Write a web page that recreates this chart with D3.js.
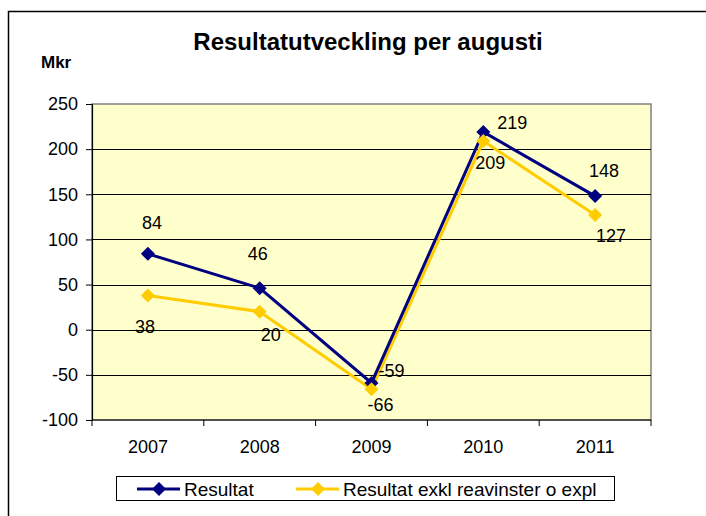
<!DOCTYPE html>
<html>
<head>
<meta charset="utf-8">
<script src="https://cdn.jsdelivr.net/npm/d3@7"></script>
<style>
  body { margin: 0; background: #fff; }
  svg { display: block; font-family: Arial, "Liberation Sans", sans-serif; }
</style>
</head>
<body>
<div id="chart"></div>
<script>
// chart data
var years = ["2007", "2008", "2009", "2010", "2011"];
var resultat = [84, 46, -59, 219, 148];
var resultatExkl = [38, 20, -66, 209, 127];
var yTicks = [-100, -50, 0, 50, 100, 150, 200, 250];
var seriesNames = ["Resultat", "Resultat exkl reavinster o expl"];

var W = 706, H = 516;
var plot = {left: 92, top: 104, right: 651, bottom: 420};

// where each data label sits relative to its marker (dx, dy of label centre)
var labelPos = [
  [[4, -31], [-2, -34], [20, -12], [29, -9], [9, -25]],
  [[-3, 31], [11, 23], [9, 15], [7, 22], [16, 21]]
];

var svg = d3.select("#chart").append("svg")
  .attr("width", W).attr("height", H);

// outer chart frame (cut off at right/bottom)
svg.append("rect")
  .attr("x", 8.5).attr("y", 11.5)
  .attr("width", 740).attr("height", 540)
  .attr("fill", "none").attr("stroke", "#000").attr("stroke-width", 1.5);

var x = d3.scaleBand().domain(years).range([plot.left, plot.right]);
var y = d3.scaleLinear().domain([-100, 250]).range([plot.bottom, plot.top]);
function cx(i){ return x(years[i]) + x.bandwidth() / 2; }

// plot background
svg.append("rect")
  .attr("x", plot.left).attr("y", plot.top)
  .attr("width", plot.right - plot.left).attr("height", plot.bottom - plot.top)
  .attr("fill", "#FFFFCC").attr("stroke", "#808080").attr("stroke-width", 1.5);

// gridlines
svg.append("g").selectAll("line")
  .data(yTicks.filter(function(d){ return d > -100 && d < 250; }))
  .enter().append("line")
  .attr("x1", plot.left).attr("x2", plot.right)
  .attr("y1", function(d){ return Math.round(y(d)) + 0.5; })
  .attr("y2", function(d){ return Math.round(y(d)) + 0.5; })
  .attr("stroke", "#000").attr("stroke-width", 1);

// y axis
var yAxis = svg.append("g")
  .attr("transform", "translate(" + plot.left + ",0)")
  .call(d3.axisLeft(y).tickValues(yTicks).tickSize(6).tickPadding(8)
    .tickFormat(function(d){ return String(d); }));
yAxis.select(".domain").attr("stroke", "#000").attr("stroke-width", 1.2);
yAxis.selectAll(".tick line").attr("stroke", "#000");
yAxis.selectAll("text").attr("font-size", 18).attr("fill", "#000")
  .attr("font-family", "Arial, 'Liberation Sans', sans-serif");

// x axis with ticks between categories
var xAxisG = svg.append("g");
xAxisG.append("line")
  .attr("x1", plot.left).attr("x2", plot.right)
  .attr("y1", plot.bottom).attr("y2", plot.bottom)
  .attr("stroke", "#000").attr("stroke-width", 1.2);
var boundaries = years.map(function(d){ return x(d); }).concat([x(years[years.length - 1]) + x.bandwidth()]);
xAxisG.selectAll(".xt").data(boundaries).enter().append("line")
  .attr("x1", function(d){ return d; }).attr("x2", function(d){ return d; })
  .attr("y1", plot.bottom).attr("y2", plot.bottom + 6)
  .attr("stroke", "#000");
xAxisG.selectAll(".xl").data(years).enter().append("text")
  .attr("x", function(d){ return x(d) + x.bandwidth() / 2; })
  .attr("y", 453)
  .attr("text-anchor", "middle")
  .attr("font-size", 18)
  .text(function(d){ return d; });

// title and unit
svg.append("text")
  .attr("x", 368).attr("y", 50)
  .attr("text-anchor", "middle")
  .attr("font-size", 24).attr("font-weight", "bold")
  .text("Resultatutveckling per augusti");
svg.append("text")
  .attr("x", 41).attr("y", 68)
  .attr("font-size", 17).attr("font-weight", "bold")
  .text("Mkr");

var colors = ["#000080", "#FFCC00"];
var allSeries = [resultat, resultatExkl];
var line = d3.line()
  .x(function(d, i){ return cx(i); })
  .y(function(d){ return y(d); });
var diamond = "M0,-7L7,0L0,7L-7,0Z";

// lines first (yellow under navy), then markers (navy, then yellow)
[1, 0].forEach(function(s){
  svg.append("path")
    .datum(allSeries[s])
    .attr("d", line)
    .attr("fill", "none")
    .attr("stroke", colors[s])
    .attr("stroke-width", 3);
});
[0, 1].forEach(function(s){
  svg.append("g").selectAll("path").data(allSeries[s]).enter().append("path")
    .attr("d", diamond)
    .attr("transform", function(d, i){ return "translate(" + cx(i) + "," + y(d) + ")"; })
    .attr("fill", colors[s]);
});

// data labels
[0, 1].forEach(function(s){
  svg.append("g").selectAll("text").data(allSeries[s]).enter().append("text")
    .attr("x", function(d, i){ return cx(i) + labelPos[s][i][0]; })
    .attr("y", function(d, i){ return y(d) + labelPos[s][i][1]; })
    .attr("dy", "0.35em")
    .attr("text-anchor", "middle")
    .attr("font-size", 18)
    .text(function(d){ return d; });
});

// legend
var lg = svg.append("g");
lg.append("rect")
  .attr("x", 116.5).attr("y", 476.5)
  .attr("width", 498).attr("height", 24)
  .attr("fill", "#fff").attr("stroke", "#000").attr("stroke-width", 1);
var legendX = [137, 296];
seriesNames.forEach(function(name, s){
  var lx = legendX[s];
  lg.append("line")
    .attr("x1", lx).attr("x2", lx + 43)
    .attr("y1", 489).attr("y2", 489)
    .attr("stroke", colors[s]).attr("stroke-width", 3);
  lg.append("path")
    .attr("d", diamond)
    .attr("transform", "translate(" + (lx + 22) + ",489)")
    .attr("fill", colors[s]);
  lg.append("text")
    .attr("x", lx + 47).attr("y", 489)
    .attr("dy", "0.35em")
    .attr("font-size", 19)
    .text(name);
});
</script>
</body>
</html>
